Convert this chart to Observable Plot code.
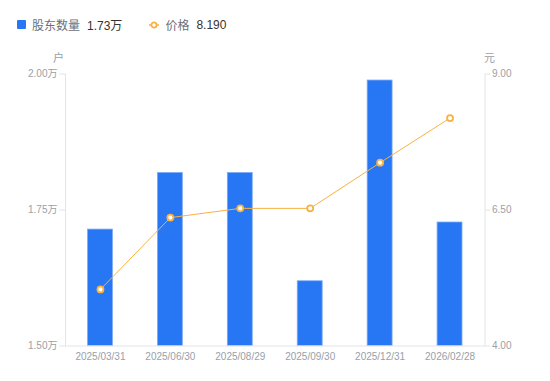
<!DOCTYPE html>
<html>
<head>
<meta charset="utf-8">
<script src="https://cdn.jsdelivr.net/npm/d3@7"></script>
<script src="https://cdn.jsdelivr.net/npm/@observablehq/plot@0.6"></script>
<style>
  html, body { margin: 0; padding: 0; background: #fff; }
  #wrap { position: relative; width: 550px; height: 381px; font-family: "Liberation Sans", "Noto Sans CJK SC", sans-serif; }
  #legend { position: absolute; left: 17px; top: 16px; font-size: 12px; display: flex; align-items: center; white-space: nowrap; }
  .sw { display: inline-block; width: 9px; height: 9px; background: #2777f4; border-radius: 1px; margin-right: 6px; }
  .lbl { color: #6b6f78; margin-right: 7px; }
  .val { color: #333; }
  .unit { position: absolute; top: 49px; font-size: 11px; color: #9a9ea8; }
  svg { display: block; }
</style>
</head>
<body>
<div id="wrap">
  <div id="legend">
    <span class="sw"></span><span class="lbl">股东数量</span><span class="val" id="v1"></span>
    <svg width="10" height="10" style="margin-left:27px;margin-right:6px;overflow:visible"><line x1="0" y1="5" x2="10" y2="5" stroke="#f9b241" stroke-width="1.5"/><circle cx="5" cy="5" r="2.6" fill="#fff" stroke="#f9b241" stroke-width="1.8"/></svg>
    <span class="lbl">价格</span><span class="val" id="v2"></span>
  </div>
  <span class="unit" style="left:53px">户</span>
  <span class="unit" style="left:484px">元</span>
  <div id="chart"></div>
</div>
<script>
const dates = ["2025/03/31", "2025/06/30", "2025/08/29", "2025/09/30", "2025/12/31", "2026/02/28"];
const holders = [1.714, 1.818, 1.818, 1.619, 1.988, 1.727]; // 万户
const prices = [5.04, 6.36, 6.53, 6.53, 7.37, 8.19]; // 元
const leftTicks = [1.5, 1.75, 2.0];
const rightTicks = [4.0, 6.5, 9.0];
const holderDomain = [1.5, 2.0];
const priceDomain = [4.0, 9.0];

// map price onto the holder scale
const p2h = p => holderDomain[0] + (p - priceDomain[0]) / (priceDomain[1] - priceDomain[0]) * (holderDomain[1] - holderDomain[0]);

const data = dates.map((d, i) => ({date: d, holders: holders[i], price: prices[i], py: p2h(prices[i])}));

document.getElementById("v1").textContent = holders[holders.length - 1].toFixed(2) + "万";
document.getElementById("v2").textContent = prices[prices.length - 1].toFixed(3);

const gray = "#9a9ea8";
const axisLine = "#e3e4e8";

const chart = Plot.plot({
  width: 550,
  height: 381,
  marginTop: 73.5,
  marginBottom: 35.5,
  marginLeft: 65,
  marginRight: 65.5,
  style: {fontFamily: "'Liberation Sans', 'Noto Sans CJK SC', sans-serif", fontSize: "10px", background: "transparent", overflow: "visible"},
  x: {type: "band", domain: dates, padding: 0, round: false},
  y: {domain: holderDomain},
  marks: [
    Plot.barY(data, {x: "date", y1: holderDomain[0], y2: "holders", fill: "#2777f4", stroke: "#7aaaf6", strokeWidth: 0.8, insetLeft: 22.5, insetRight: 22.5}),
    Plot.frame({anchor: "left", stroke: axisLine}),
    Plot.frame({anchor: "right", stroke: axisLine}),
    Plot.frame({anchor: "bottom", stroke: axisLine}),
    Plot.axisY({anchor: "left", ticks: leftTicks, tickFormat: d => d.toFixed(2) + "万", tickSize: 6, tickPadding: 2, stroke: axisLine, color: gray, label: null}),
    Plot.axisY({anchor: "right", ticks: leftTicks, tickFormat: (d, i) => rightTicks[i].toFixed(2), tickSize: 5, tickPadding: 2, stroke: axisLine, color: gray, label: null}),
    Plot.axisX({anchor: "bottom", tickSize: 0, tickPadding: 7, color: gray, label: null}),
    Plot.lineY(data, {x: "date", y: "py", stroke: "#f9b241", strokeWidth: 1}),
    Plot.dot(data, {x: "date", y: "py", r: 3, fill: "#fff", stroke: "#f9b241", strokeWidth: 1.8})
  ]
});
document.getElementById("chart").appendChild(chart);
</script>
</body>
</html>
